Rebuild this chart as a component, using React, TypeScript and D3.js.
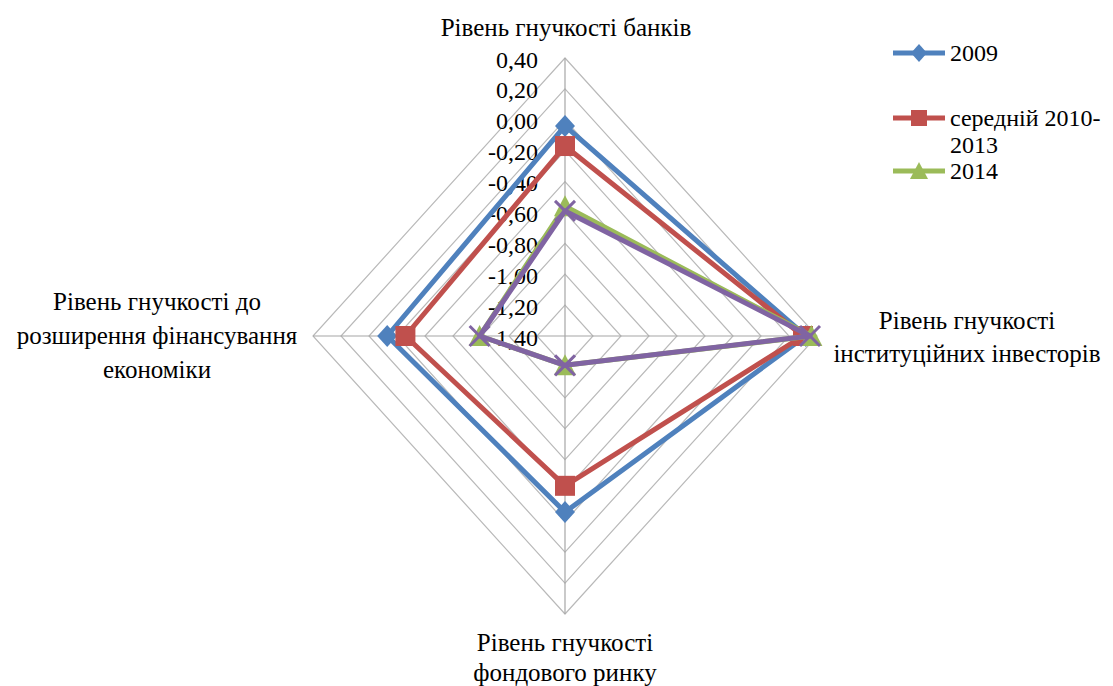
import React from "react";
import * as d3 from "d3";

const axes = [
  ["Рівень гнучкості банків"],
  ["Рівень гнучкості", "інституційних інвесторів"],
  ["Рівень гнучкості", "фондового ринку"],
  ["Рівень гнучкості до", "розширення фінансування", "економіки"],
];

const ticks = [-1.4, -1.2, -1.0, -0.8, -0.6, -0.4, -0.2, 0.0, 0.2, 0.4];

const s2009 = [-0.04, 0.32, -0.26, -0.13];
const sAvg = [-0.17, 0.3, -0.43, -0.26];
const s2014 = [-0.56, 0.36, -1.21, -0.79];
const sExtra = [-0.59, 0.35, -1.21, -0.79];

const series = [
  { name: "2009", values: s2009, color: "#4F81BD", marker: "diamond" },
  { name: "середній 2010-2013", values: sAvg, color: "#C0504D", marker: "square" },
  { name: "2014", values: s2014, color: "#9BBB59", marker: "triangle" },
  { name: "", values: sExtra, color: "#8064A2", marker: "x" },
];

const W = 1113;
const H = 686;
const cx = 565;
const cy = 336;
const rx = 252;
const ry = 278;

const r = d3.scaleLinear().domain([-1.4, 0.4]).range([0, 1]);
const angle = (i: number) => (i * Math.PI) / 2;
const pt = (i: number, v: number): [number, number] => [
  cx + rx * r(v) * Math.sin(angle(i)),
  cy - ry * r(v) * Math.cos(angle(i)),
];

const fmt = (v: number) => d3.format(".2f")(v).replace(".", ",").replace("−", "-");

const FONT = "Liberation Serif";
const tickTxt: React.CSSProperties = { fontFamily: FONT, fontSize: 24 };
const labelTxt: React.CSSProperties = { fontFamily: FONT, fontSize: 25 };

function Marker({
  type,
  x,
  y,
  color,
  s = 10,
}: {
  type: string;
  x: number;
  y: number;
  color: string;
  s?: number;
}) {
  if (type === "diamond")
    return <path d={`M${x},${y - s - 1}L${x + s},${y}L${x},${y + s + 1}L${x - s},${y}Z`} fill={color} />;
  if (type === "square")
    return <rect x={x - s} y={y - s} width={2 * s} height={2 * s} fill={color} />;
  if (type === "triangle")
    return <path d={`M${x},${y - s - 1}L${x + s + 1},${y + s}L${x - s - 1},${y + s}Z`} fill={color} />;
  return (
    <path
      d={`M${x - s},${y - s}L${x + s},${y + s}M${x - s},${y + s}L${x + s},${y - s}`}
      stroke={color}
      strokeWidth={3}
    />
  );
}

export default function App() {
  const line = d3.line<[number, number]>().curve(d3.curveLinearClosed);
  const legendRows = [
    { s: series[0], y: 53, lines: ["2009"] },
    { s: series[1], y: 118, lines: ["середній 2010-", "2013"] },
    { s: series[2], y: 171, lines: ["2014"] },
  ];
  return (
    <svg
      width={W}
      height={H}
      style={{ position: "absolute", left: 0, top: 0, background: "#fff" }}
    >
      {/* grid rings */}
      {ticks.slice(1).map((t) => (
        <path
          key={t}
          d={line(axes.map((_, i) => pt(i, t)))!}
          fill="none"
          stroke="#b9b9b9"
          strokeWidth={1.2}
        />
      ))}
      {/* spokes */}
      {axes.map((_, i) => {
        const [x, y] = pt(i, 0.4);
        return <line key={i} x1={cx} y1={cy} x2={x} y2={y} stroke="#a6a6a6" strokeWidth={1.2} />;
      })}
      {/* tick labels */}
      {ticks.map((t) => (
        <text key={t} x={538} y={pt(0, t)[1] + 9.5} textAnchor="end" style={tickTxt} fill="#000">
          {fmt(t)}
        </text>
      ))}
      {/* series */}
      {series.map((s) => (
        <g key={s.color}>
          <path
            d={line(s.values.map((v, i) => pt(i, v)))!}
            fill="none"
            stroke={s.color}
            strokeWidth={5}
            strokeLinejoin="round"
          />
          {s.values.map((v, i) => {
            const [x, y] = pt(i, v);
            return <Marker key={i} type={s.marker} x={x} y={y} color={s.color} />;
          })}
        </g>
      ))}
      {/* axis labels */}
      <text x={566} y={36} textAnchor="middle" style={labelTxt}>
        {axes[0][0]}
      </text>
      {axes[1].map((l, k) => (
        <text key={k} x={967} y={329 + k * 33} textAnchor="middle" style={labelTxt}>
          {l}
        </text>
      ))}
      {axes[2].map((l, k) => (
        <text key={k} x={565} y={651 + k * 30} textAnchor="middle" style={labelTxt}>
          {l}
        </text>
      ))}
      {axes[3].map((l, k) => (
        <text key={k} x={157} y={310 + k * 34} textAnchor="middle" style={labelTxt}>
          {l}
        </text>
      ))}
      {/* legend */}
      {legendRows.map(({ s, y, lines }) => (
        <g key={s.name}>
          <line x1={893} x2={945} y1={y} y2={y} stroke={s.color} strokeWidth={5} />
          <Marker type={s.marker} x={919} y={y} color={s.color} s={8} />
          {lines.map((l, k) => (
            <text key={k} x={950} y={y + 8 + k * 27} style={tickTxt}>
              {l}
            </text>
          ))}
        </g>
      ))}
    </svg>
  );
}
